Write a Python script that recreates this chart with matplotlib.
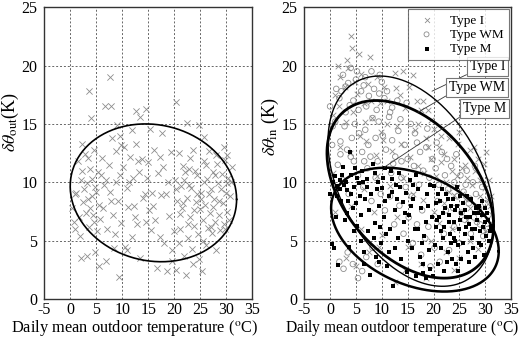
import numpy as np
import matplotlib
matplotlib.use("Agg")
import matplotlib.pyplot as plt

plt.rcParams["font.family"] = ["Liberation Serif", "DejaVu Serif"]
plt.rcParams["mathtext.fontset"] = "stix"
plt.rcParams["axes.unicode_minus"] = False

# ---- left panel: delta theta_out -------------------------------------------
out_x = [7.7, 3.7, 6.6, 7.9, 20.3, 14.5, 12.6, 4.0, 13.5, 9.0,
         2.3, 9.6, 11.8, 15.3, 17.6, 22.5, 24.8, 25.7, 29.6, 30.1,
         0.3, 0.8, 1.2, 1.5, 1.9, 2.1, 2.5, 2.8, 3.0, 3.3,
         3.6, 3.9, 4.2, 4.4, 4.6, 4.8, 5.1, 5.3, 5.5, 5.8,
         2.0, 3.2, 4.8, 5.6, 6.8, 9.4, 1.0, 2.6, 3.5, 4.1,
         6.2, 6.5, 6.9, 7.1, 7.4, 7.7, 8.0, 8.3, 8.6, 8.9,
         9.2, 9.5, 9.8, 10.1, 10.3, 10.6, 10.9, 11.2, 11.5, 11.8,
         12.1, 12.3, 12.6, 12.9, 13.2, 13.5, 13.8, 14.0, 14.3, 14.6,
         15.0, 15.2, 15.5, 15.8, 16.1, 16.3, 16.6, 16.9, 17.2, 17.5,
         17.8, 18.1, 18.4, 18.7, 19.0, 19.3, 19.6, 19.9, 20.1, 20.3,
         20.6, 20.9, 21.1, 21.3, 21.5, 21.7, 21.9, 22.1, 22.3, 22.5,
         22.7, 22.9, 23.1, 23.3, 23.5, 23.7, 23.9, 24.1, 24.3, 24.5,
         24.7, 24.9, 25.1, 25.3, 25.5, 25.7, 25.9, 26.1, 26.3, 26.5,
         26.7, 26.9, 27.1, 27.3, 27.5, 27.7, 27.9, 28.1, 28.3, 28.5,
         28.7, 28.9, 29.1, 29.3, 29.5, 29.7, 29.9, 30.1, 30.4, 30.8,
         31.2, 30.6, 21.2, 22.6, 23.8, 24.4, 25.8, 27.4, 28.6, 29.8,
         21.8, 23.0, 26.2, 28.0, 3.4, 4.5, 1.7, 6.4, 8.8, 11.0,
         1.0, 2.2, 3.8, 5.0, 6.0, 7.8, 9.8, 11.4, 13.0, 14.8,
         16.0, 17.2, 18.8, 20.4, 21.6, 22.8, 24.0, 25.2, 26.6, 27.8,
         29.0, 30.2, 31.0, 27.0, 25.6, 23.6, 21.0, 19.6, 12.4, 8.4]
out_y = [19.0, 17.8, 16.5, 16.5, 16.9, 16.3, 16.1, 15.5, 15.6, 14.9,
         13.3, 14.0, 14.5, 14.6, 14.2, 15.1, 14.9, 13.9, 13.0, 12.3,
         7.8, 6.6, 9.1, 11.8, 5.4, 10.2, 8.3, 12.4, 7.4, 9.9,
         6.2, 11.1, 8.8, 7.2, 12.8, 9.6, 5.8, 10.9, 8.1, 6.9,
         3.5, 3.7, 4.0, 2.8, 3.3, 1.9, 6.0, 9.4, 12.1, 10.3,
         12.1, 9.8, 10.2, 6.0, 11.5, 9.2, 13.8, 7.2, 5.6, 12.7,
         8.4, 10.6, 6.5, 11.3, 13.0, 4.5, 9.5, 7.9, 12.2, 5.3,
         10.4, 8.0, 13.3, 6.4, 10.9, 3.5, 12.0, 8.7, 9.0, 6.6,
         11.7, 7.6, 5.9, 9.1, 12.8, 6.8, 2.7, 10.8, 5.3, 8.9,
         11.3, 4.8, 9.0, 2.4, 7.1, 12.6, 3.3, 5.8, 10.2, 2.5,
         8.4, 12.5, 6.0, 9.7, 7.8, 11.4, 3.7, 10.9, 2.1, 8.7,
         5.2, 11.1, 7.0, 9.5, 4.3, 12.8, 6.3, 8.3, 10.6, 5.6,
         3.4, 7.7, 9.1, 2.4, 6.8, 11.8, 8.1, 4.6, 10.3, 6.1,
         12.7, 7.4, 9.4, 5.7, 10.9, 8.6, 6.6, 4.2, 11.6, 9.9,
         7.2, 5.9, 10.7, 8.2, 6.4, 11.9, 9.1, 7.5, 10.4, 8.8,
         11.3, 6.8, 7.3, 6.4, 7.6, 9.0, 10.0, 7.9, 8.4, 6.0,
         10.2, 12.1, 11.5, 12.3, 8.6, 6.6, 7.0, 7.8, 10.0, 4.2,
         9.0, 11.0, 7.8, 9.2, 10.6, 8.4, 13.2, 10.0, 11.8, 10.4,
         8.0, 12.2, 10.0, 9.4, 8.2, 9.8, 11.0, 8.6, 9.0, 10.6,
         9.4, 9.9, 10.0, 6.2, 5.0, 3.0, 4.8, 4.2, 7.0, 4.4]

# ---- right panel: delta theta_in, three house types ------------------------
type_i_x = [4.0, 4.2, 7.8, 2.0, 3.5, 6.0, 9.0, 12.5, 14.0, 10.5,
            1.0, 2.8, 5.2, 7.3, 12.8, 15.2, 16.0, 18.0, 17.5, 19.5,
            0.5, 1.8, 3.0, 4.5, 6.5, 8.2, 9.6, 11.0, 13.0, 14.5,
            16.5, 18.5, 20.0, 21.0, 22.0, 23.0, 24.0, 25.0, 26.0, 27.0,
            28.0, 29.0, 30.0, 30.5, 27.5, 26.5, 25.5, 24.5, 23.5, 22.5,
            2.0, 3.8, 5.8, 7.0, 8.8, 10.2, 12.0, 13.8, 15.5, 17.0,
            18.2, 19.5, 20.5, 21.5, 28.5, 29.5, 31.0, 26.0, 24.0, 22.0,
            1.0, 2.5, 4.0, 6.5, 9.0, 11.5, 14.0, 16.0, 18.0, 20.0,
            3.0, 5.0, 7.5, 10.0, 12.5, 15.0, 17.5, 19.5, 22.5, 25.0,
            27.0, 28.5, 30.0, 26.5, 23.5, 21.0, 13.0, 8.5, 0.5, 11.0,
            4.8, 6.8, 9.8, 16.8, 19.0, 24.8, 27.8, 29.8, 30.8, 31.2,
            1.5, 3.2, 5.5, 8.0, 13.5, 17.0, 19.0, 21.5, 23.0, 25.5,
            27.0, 29.0, 31.0, 30.2, 28.5, 6.0, 9.5, 14.5, 18.5, 24.0]
type_i_y = [22.5, 21.5, 20.7, 19.0, 19.8, 19.3, 19.0, 19.4, 19.5, 18.2,
            17.5, 18.2, 17.6, 18.4, 18.1, 18.2, 19.2, 17.0, 16.2, 15.3,
            15.8, 16.5, 15.2, 16.0, 16.8, 15.5, 16.8, 15.0, 14.8, 16.4,
            14.5, 13.8, 14.6, 13.0, 12.4, 13.8, 12.0, 14.3, 11.5, 12.8,
            11.0, 10.2, 9.5, 8.5, 9.8, 10.4, 11.2, 10.5, 11.0, 10.0,
            13.0, 12.5, 14.0, 13.5, 12.3, 13.6, 12.7, 13.3, 12.2, 11.4,
            10.8, 12.0, 10.5, 11.7, 8.0, 7.2, 6.5, 8.6, 8.9, 8.2,
            7.5, 9.8, 8.0, 9.4, 10.5, 9.7, 10.4, 9.0, 8.5, 7.5,
            3.5, 2.8, 4.0, 5.5, 1.5, 4.5, 3.0, 5.0, 4.0, 3.5,
            5.0, 4.3, 5.8, 6.8, 6.0, 6.5, 7.0, 7.5, 10.8, 17.0,
            18.6, 15.2, 14.3, 17.0, 16.2, 13.3, 13.0, 11.6, 10.2, 8.8,
            20.0, 20.5, 21.0, 17.0, 17.5, 15.0, 13.0, 14.0, 9.2, 9.0,
            7.8, 8.8, 8.0, 12.6, 12.0, 6.0, 4.5, 2.5, 1.8, 2.5]

type_wm_x = [0.0, 0.5, 1.2, 1.8, 2.5, 3.0, 3.5, 4.0, 4.5, 5.0,
             5.5, 6.0, 6.5, 7.0, 7.5, 8.0, 8.5, 9.0, 9.5, 10.0,
             10.5, 11.0, 1.0, 2.0, 2.8, 3.3, 4.2, 4.8, 5.6, 6.2,
             6.8, 7.4, 8.2, 8.8, 9.4, 10.2, 10.8, 11.4, 12.0, 12.6,
             13.2, 13.8, 14.4, 15.0, 15.6, 16.2, 16.8, 17.4, 18.0, 18.6,
             19.2, 19.8, 20.4, 21.0, 21.6, 22.2, 22.8, 23.4, 24.0, 24.6,
             25.2, 25.8, 26.4, 27.0, 27.6, 28.2, 28.8, 29.4, 30.0, 30.6,
             1.5, 2.4, 3.6, 4.6, 5.4, 6.4, 7.2, 8.0, 8.8, 9.8,
             10.6, 11.6, 12.4, 13.4, 14.2, 15.2, 16.0, 16.8, 17.6, 18.4,
             19.4, 20.2, 21.2, 22.0, 23.0, 24.0, 25.0, 26.0, 27.2, 28.4,
             1.8, 2.6, 3.4, 4.4, 5.4, 6.2, 7.0, 8.2, 9.2, 29.6,
             12.0, 13.0, 14.8, 2.2, 3.8, 5.2, 7.8, 11.8, 14.6, 17.2,
             20.8, 22.4, 23.8, 25.4, 26.8, 27.8, 29.0, 30.4, 19.0, 17.8,
             15.8, 13.8, 12.2, 9.2, 6.6, 4.0, 2.0, 0.4, 3.0, 6.8,
             9.6, 11.6, 13.6, 16.4, 18.8, 20.6, 22.6, 24.4, 26.2, 28.0]
type_wm_y = [16.5, 14.8, 18.0, 17.2, 19.2, 16.0, 18.5, 19.8, 17.0, 18.8,
             16.2, 17.8, 18.3, 16.5, 17.4, 19.5, 18.0, 16.2, 17.6, 18.6,
             17.2, 17.8, 15.2, 13.5, 14.8, 12.8, 13.8, 15.0, 14.2, 12.6,
             14.5, 13.2, 15.5, 13.8, 15.2, 14.0, 12.8, 15.6, 13.6, 12.2,
             14.4, 11.8, 13.2, 12.0, 15.0, 11.4, 13.4, 12.6, 11.0, 13.0,
             10.4, 12.0, 11.2, 9.8, 12.6, 10.6, 9.4, 11.4, 10.0, 8.8,
             10.6, 9.2, 11.0, 8.6, 10.0, 9.0, 7.8, 9.6, 8.2, 7.2,
             11.5, 10.2, 9.0, 11.8, 10.6, 9.6, 11.2, 8.4, 10.4, 9.0,
             7.6, 8.8, 6.4, 8.0, 5.6, 7.0, 4.8, 6.4, 3.8, 5.2,
             2.8, 4.4, 3.2, 5.6, 4.2, 6.2, 4.8, 6.8, 5.6, 6.6,
             3.2, 2.6, 4.0, 3.0, 1.8, 2.4, 3.6, 4.4, 3.0, 5.4,
             16.4, 17.0, 16.8, 17.8, 16.6, 19.5, 12.2, 10.8, 9.6, 9.8,
             8.4, 7.6, 7.8, 7.4, 8.2, 7.0, 6.4, 6.0, 6.2, 7.6,
             8.8, 10.4, 11.6, 11.8, 11.8, 12.2, 12.4, 13.2, 18.2, 19.0,
             19.2, 16.0, 15.4, 14.2, 14.6, 13.4, 12.0, 12.4, 9.8, 11.4]

type_m_x = [0.0, 0.3, 0.8, 1.0, 1.3, 1.6, 1.9, 2.2, 2.5, 2.8,
            3.0, 3.3, 3.6, 3.9, 4.1, 4.4, 4.7, 5.0, 5.3, 5.6,
            5.9, 6.2, 6.5, 6.8, 7.1, 7.4, 7.7, 8.0, 8.3, 8.6,
            8.9, 9.2, 9.5, 9.8, 10.1, 10.4, 10.7, 11.0, 11.3, 11.6,
            11.9, 12.2, 12.5, 12.8, 13.1, 13.4, 13.7, 14.0, 14.3, 14.6,
            14.9, 15.2, 15.5, 15.8, 16.1, 16.4, 16.7, 17.0, 17.3, 17.6,
            17.9, 18.2, 18.5, 18.8, 19.1, 19.4, 19.7, 20.0, 20.3, 20.6,
            20.9, 21.2, 21.5, 21.8, 22.1, 22.4, 22.7, 23.0, 23.3, 23.6,
            23.9, 24.2, 24.5, 24.8, 25.1, 25.4, 25.7, 26.0, 26.3, 26.6,
            26.9, 27.2, 27.5, 27.8, 28.1, 28.4, 28.7, 29.0, 29.3, 29.6,
            29.9, 30.2, 30.5, 30.8, 31.1, 27.0, 26.0, 25.0, 24.0, 23.0,
            22.0, 21.0, 20.5, 28.0, 29.2, 27.6, 25.6, 24.4, 23.4, 22.6,
            1.4, 2.0, 2.6, 3.4, 4.0, 4.6, 5.2, 6.0, 6.6, 7.2,
            8.4, 9.0, 9.6, 10.2, 10.8, 11.4, 12.0, 13.0, 15.0, 16.0,
            17.0, 18.0, 19.0, 19.8, 21.6, 22.8, 24.6, 26.4, 28.6, 30.0,
            20.4, 21.4, 22.2, 23.2, 24.2, 25.2, 26.2, 27.4, 28.2, 29.4,
            30.4, 31.0, 29.8, 28.8, 26.8, 25.4, 24.8, 23.8, 21.8, 20.8,
            0.6, 1.2, 2.4, 3.2, 4.8, 5.8, 6.4, 7.6, 8.6, 9.4,
            10.6, 11.8, 12.6, 13.6, 14.4, 15.6, 16.6, 17.8, 18.6, 19.4]
type_m_y = [9.0, 4.7, 4.4, 10.5, 9.7, 2.9, 10.2, 8.4, 11.3, 6.8,
            10.0, 9.3, 4.5, 12.6, 10.6, 7.8, 9.6, 8.2, 6.3, 9.9,
            5.0, 11.0, 3.0, 8.6, 10.3, 5.8, 2.1, 9.0, 11.6, 6.5,
            3.6, 10.0, 8.0, 4.8, 9.5, 7.0, 11.2, 2.8, 8.8, 6.0,
            10.3, 1.1, 7.6, 9.8, 5.2, 10.8, 3.4, 8.3, 6.6, 9.1,
            2.3, 7.2, 10.2, 4.4, 8.6, 6.0, 2.0, 9.4, 3.6, 7.8,
            2.2, 5.4, 1.8, 9.0, 4.2, 2.6, 7.0, 9.7, 4.6, 6.8,
            3.0, 8.4, 5.8, 7.4, 2.4, 9.0, 4.0, 6.6, 8.0, 3.4,
            5.2, 7.6, 9.6, 4.6, 6.8, 3.4, 8.2, 5.6, 7.0, 4.0,
            6.4, 8.6, 5.2, 7.4, 3.6, 6.8, 8.0, 5.8, 7.2, 6.2,
            7.8, 5.4, 6.8, 5.0, 6.2, 7.0, 7.6, 6.0, 6.6, 7.2,
            6.2, 7.0, 8.2, 6.0, 4.6, 4.4, 4.8, 3.0, 4.8, 3.2,
            8.8, 9.4, 9.8, 8.4, 9.0, 5.8, 10.4, 7.2, 4.0, 9.6,
            5.2, 9.4, 6.2, 10.4, 5.6, 4.0, 9.2, 8.6, 5.0, 9.8,
            6.0, 3.0, 8.0, 2.0, 9.4, 8.6, 8.0, 8.8, 7.4, 6.6,
            6.2, 4.4, 7.8, 5.6, 5.0, 8.8, 6.2, 6.0, 7.8, 8.4,
            7.4, 5.8, 3.8, 4.8, 3.2, 7.4, 2.4, 8.6, 5.2, 9.0,
            10.0, 7.0, 10.6, 7.4, 11.2, 8.8, 10.0, 7.6, 10.8, 3.2,
            8.4, 11.0, 4.4, 9.6, 7.4, 8.0, 10.6, 4.8, 6.6, 9.8]

# fitted ellipses: centre (x, y) and covariance-like terms sxx, syy, sxy
ell_out = (16.0, 9.1, 256.0, 34.8, -9.0)
ell_type_i = (15.65, 10.1, 257.6, 81.0, -54.6)
ell_type_wm = (15.5, 9.4, 259.2, 57.8, -49.9)
ell_type_m = (16.4, 5.95, 262.4, 28.1, -30.0)

xticks = [-5, 0, 5, 10, 15, 20, 25, 30, 35]
yticks = [0, 5, 10, 15, 20, 25]
xlabel = "Daily mean outdoor temperature ($^{\\rm o}$C)"


def ellipse_xy(ell, n=300):
    cx, cy, sxx, syy, sxy = ell
    chol = np.linalg.cholesky(np.array([[sxx, sxy], [sxy, syy]]))
    t = np.linspace(0, 2 * np.pi, n)
    pts = chol @ np.vstack([np.cos(t), np.sin(t)])
    return cx + pts[0], cy + pts[1]


def style_axes(ax, label_x, label_size):
    ax.set_xlim(-5, 35)
    ax.set_ylim(0, 25)
    ax.set_xticks(xticks)
    ax.set_yticks(yticks)
    ax.grid(True, color="#666666", linestyle=(0, (2, 2)), linewidth=0.7)
    ax.set_axisbelow(True)
    ax.tick_params(direction="in", length=0, labelsize=11.5)
    ax.tick_params(axis="x", pad=2)
    ax.tick_params(axis="y", pad=5)
    for s in ax.spines.values():
        s.set_linewidth(1.0)
        s.set_color("#333333")
    ax.set_xlabel(xlabel, fontsize=label_size)
    ax.xaxis.set_label_coords(label_x, -0.064)


fig = plt.figure(figsize=(5.2, 3.38), dpi=100)
ax1 = fig.add_axes([0.085, 0.115, 0.400, 0.864])
ax2 = fig.add_axes([0.585, 0.115, 0.398, 0.864])

grey = "#8c8c8c"

# left
ax1.scatter(out_x, out_y, marker="x", s=20, c=grey, linewidths=0.6)
ex, ey = ellipse_xy(ell_out)
ax1.plot(ex, ey, color="black", lw=1.2)
style_axes(ax1, 0.433, 11.8)
ax1.set_ylabel(r"$\delta\theta_{\rm out}$(K)", fontsize=13)
ax1.yaxis.set_label_coords(-0.11, 0.606)

# right
ax2.scatter(type_i_x, type_i_y, marker="x", s=16, c=grey, linewidths=0.6, label="Type I")
ax2.scatter(type_wm_x, type_wm_y, marker="o", s=16, facecolors="none",
            edgecolors=grey, linewidths=0.6, label="Type WM")
ax2.scatter(type_m_x, type_m_y, marker="s", s=11, c="black", linewidths=0, label="Type M")
for ell, lw in [(ell_type_i, 1.0), (ell_type_wm, 2.0), (ell_type_m, 1.8)]:
    ex, ey = ellipse_xy(ell)
    ax2.plot(ex, ey, color="black", lw=lw)
style_axes(ax2, 0.475, 11.2)
ax2.set_ylabel(r"$\delta\theta_{\rm in}$ (K)", fontsize=13)
ax2.yaxis.set_label_coords(-0.11, 0.59)

leg = ax2.legend(loc="upper right", fontsize=9.5, frameon=True, fancybox=False,
                 borderaxespad=0.15, handletextpad=0.8, labelspacing=0.15,
                 borderpad=0.4, markerscale=0.9)
leg.get_frame().set_edgecolor("#555555")
leg.get_frame().set_linewidth(0.8)

callouts = [("Type I", (19.7, 17.8), (30.4, 19.9)),
            ("Type WM", (17.0, 16.0), (28.4, 18.1)),
            ("Type M", (10.5, 11.3), (29.8, 16.3))]
for label, tip, pos in callouts:
    ax2.annotate(label, xy=tip, xytext=pos, ha="center", va="center", fontsize=10,
                 bbox=dict(boxstyle="square,pad=0.2", fc="white", ec="#777777", lw=0.8),
                 arrowprops=dict(arrowstyle="-", color="#333333", lw=0.6,
                                 relpos=(0.0, 0.0), shrinkA=0, shrinkB=0))

fig.savefig("out.png", dpi=100)
